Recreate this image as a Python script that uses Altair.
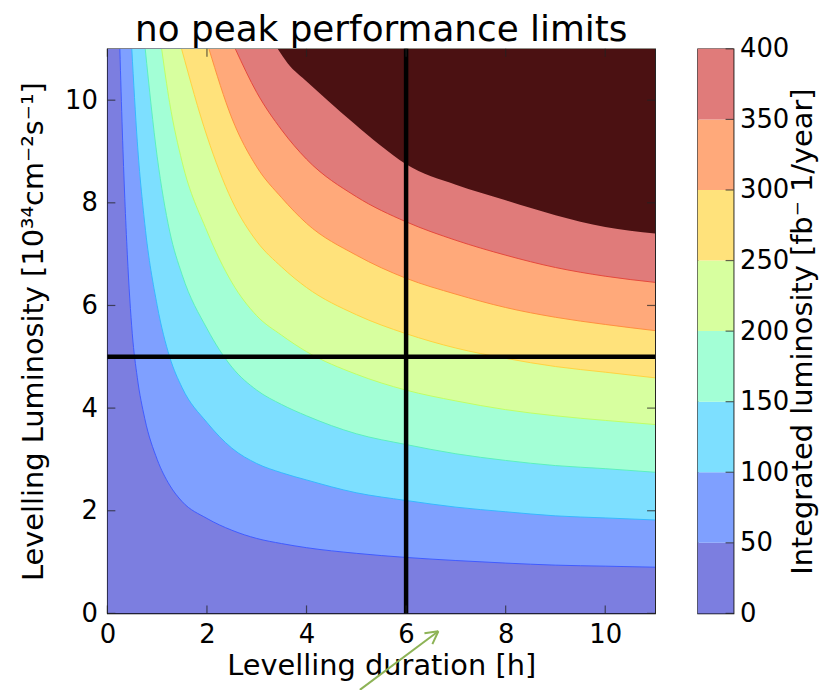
import altair as alt
import pandas as pd

FONT = "DejaVu Sans"
X_MAX = 11
Y_MAX = 11
W, H = 551, 568

# ---- tick values ----
x_ticks = [0, 2, 4, 6, 8, 10]
y_ticks = [0, 2, 4, 6, 8, 10]
cbar_ticks = [0, 50, 100, 150, 200, 250, 300, 350, 400]

# ---- contour levels & colours ----
levels = [0, 50, 100, 150, 200, 250, 300, 350, 400]
fill_colors = ["#7c7ee0", "#7fa0ff", "#7ddfff", "#a3ffd6", "#d7ff9f",
               "#ffe27b", "#ffa97a", "#e07b7a", "#4b1112"]
edge_colors = [None, "#3f5cff", "#36b8ff", "#5cf0bd", "#bfff66",
               "#ffd340", "#ff8f3e", "#e4493c", None]

# ---- contour boundaries (x = duration h, y = luminosity) ----
b0_x = [0, 11]
b0_y = [0, 0]
b50_x = [0.25, 0.3, 0.4, 0.5, 0.6, 0.75, 1.0, 1.25, 1.5, 2.0, 2.5, 3.0, 3.5, 4.0, 5.0, 6.0, 7.0, 8.0, 9.0, 10.0, 11.0]
b50_y = [11.0, 9.4, 7.0, 5.45, 4.6, 3.8, 3.0, 2.5, 2.18, 1.85, 1.62, 1.46, 1.36, 1.28, 1.17, 1.09, 1.03, 0.98, 0.94, 0.92, 0.90]
b100_x = [0.49, 0.6, 0.75, 1.0, 1.25, 1.5, 2.0, 2.5, 3.0, 3.5, 4.0, 5.0, 6.0, 7.0, 8.0, 9.0, 10.0, 11.0]
b100_y = [11.0, 9.2, 7.6, 6.0, 5.0, 4.4, 3.72, 3.22, 2.92, 2.74, 2.6, 2.35, 2.2, 2.07, 1.98, 1.9, 1.86, 1.82]
b150_x = [0.76, 1.0, 1.25, 1.5, 2.0, 2.5, 3.0, 3.5, 4.0, 5.0, 6.0, 7.0, 8.0, 9.0, 10.0, 11.0]
b150_y = [11.0, 8.9, 7.45, 6.6, 5.55, 4.8, 4.35, 4.07, 3.85, 3.5, 3.29, 3.11, 2.98, 2.88, 2.82, 2.75]
b200_x = [1.09, 1.25, 1.5, 2.0, 2.5, 3.0, 3.5, 4.0, 5.0, 6.0, 7.0, 8.0, 9.0, 10.0, 11.0]
b200_y = [11.0, 9.95, 8.8, 7.45, 6.45, 5.8, 5.42, 5.1, 4.66, 4.35, 4.14, 3.97, 3.85, 3.76, 3.68]
b250_x = [1.49, 2.0, 2.5, 3.0, 3.5, 4.0, 5.0, 6.0, 7.0, 8.0, 9.0, 10.0, 11.0]
b250_y = [11.0, 9.3, 8.05, 7.25, 6.75, 6.35, 5.82, 5.45, 5.17, 4.97, 4.81, 4.7, 4.59]
b300_x = [2.04, 2.5, 3.0, 3.5, 4.0, 5.0, 6.0, 7.0, 8.0, 9.0, 10.0, 11.0]
b300_y = [11.0, 9.65, 8.7, 8.1, 7.6, 6.98, 6.53, 6.22, 5.96, 5.77, 5.63, 5.51]
b350_x = [2.57, 3.0, 3.5, 4.0, 5.0, 6.0, 7.0, 8.0, 9.0, 10.0, 11.0]
b350_y = [11.0, 10.15, 9.42, 8.85, 8.12, 7.63, 7.27, 6.98, 6.74, 6.57, 6.45]
b400_x = [3.42, 3.62, 4.02, 4.42, 4.95, 5.48, 6.0, 7.0, 8.0, 9.0, 10.0, 11.0]
b400_y = [11.0, 10.72, 10.35, 10.0, 9.55, 9.12, 8.75, 8.35, 8.05, 7.76, 7.53, 7.40]

bounds_x = [b0_x, b50_x, b100_x, b150_x, b200_x, b250_x, b300_x, b350_x, b400_x]
bounds_y = [b0_y, b50_y, b100_y, b150_y, b200_y, b250_y, b300_y, b350_y, b400_y]

# reference lines
duration_mark = [6]
luminosity_mark = [5]

# ---- scales & axes ----
xscale = alt.Scale(domain=[0, X_MAX], nice=False, zero=False)
yscale = alt.Scale(domain=[0, Y_MAX], nice=False, zero=False)

xaxis = alt.Axis(values=x_ticks, title="Levelling duration [h]", ticks=False, domain=False,
                 grid=False, labelFontSize=26, titleFontSize=29, labelFont=FONT, titleFont=FONT,
                 titleFontWeight="normal", labelColor="black", titleColor="black",
                 labelPadding=8, titlePadding=5, format="d", labelFlush=False, labelOverlap=False)
yaxis = alt.Axis(values=y_ticks, title="Levelling Luminosity [10³⁴cm⁻²s⁻¹]", ticks=False,
                 domain=False, grid=False, labelFontSize=26, titleFontSize=29, labelFont=FONT,
                 titleFont=FONT, titleFontWeight="normal", labelColor="black", titleColor="black",
                 labelPadding=10, titlePadding=16, format="d", labelFlush=False, labelOverlap=False)

X = lambda f: alt.X(f, scale=xscale, axis=xaxis)
Y = lambda f: alt.Y(f, scale=yscale, axis=yaxis)

layers = []
for lvl, xs, ys, col in zip(levels, bounds_x, bounds_y, fill_colors):
    d = pd.DataFrame({"x": xs, "y": ys, "top": [Y_MAX] * len(xs)})
    layers.append(
        alt.Chart(d).mark_area(color=col, clip=True, interpolate="monotone", opacity=1)
        .encode(x=X("x:Q"), y=Y("y:Q"), y2="top:Q")
    )

for xs, ys, col in zip(bounds_x, bounds_y, edge_colors):
    if col is None:
        continue
    d = pd.DataFrame({"x": xs, "y": ys})
    layers.append(
        alt.Chart(d).mark_line(color=col, strokeWidth=1, clip=True, interpolate="monotone")
        .encode(x=X("x:Q"), y=Y("y:Q"))
    )

layers.append(
    alt.Chart(pd.DataFrame({"x": duration_mark})).mark_rule(color="black", strokeWidth=4.5)
    .encode(x=X("x:Q"))
)
layers.append(
    alt.Chart(pd.DataFrame({"y": luminosity_mark})).mark_rule(color="black", strokeWidth=4.5)
    .encode(y=Y("y:Q"))
)

# inward ticks on all four sides
tx = pd.DataFrame({"t": x_ticks})
ty = pd.DataFrame({"t": y_ticks})
for yv in [H - 4, 4]:
    layers.append(alt.Chart(tx).mark_tick(orient="vertical", size=8, thickness=1.2, color="#222")
                  .encode(x=X("t:Q"), y=alt.value(yv)))
for xv in [4, W - 4]:
    layers.append(alt.Chart(ty).mark_tick(orient="horizontal", size=8, thickness=1.2, color="#222")
                  .encode(y=Y("t:Q"), x=alt.value(xv)))

# green annotation arrow overlaid on the picture
one = pd.DataFrame({"a": [0]})
for (x1, y1, x2, y2) in [(333, 586, 254, 645), (333, 586, 319, 588), (333, 586, 327, 599)]:
    layers.append(alt.Chart(one).mark_rule(color="#8db356", strokeWidth=2)
                  .encode(x=alt.value(x1), y=alt.value(y1), x2=alt.value(x2), y2=alt.value(y2)))

main = alt.layer(*layers).properties(
    width=W, height=H,
    title=alt.Title("no peak performance limits", fontSize=36, font=FONT,
                    fontWeight="normal", color="black", anchor="middle", offset=-2),
)

# ---- colour bar ----
cscale = alt.Scale(domain=[0, 400], nice=False, zero=False)
caxis = alt.Axis(orient="right", values=cbar_ticks, ticks=False, domain=False, grid=False,
                 title="Integrated luminosity [fb⁻ 1/year]", titleAngle=270, titleBaseline="top",
                 labelFontSize=26, titleFontSize=29, labelFont=FONT, titleFont=FONT,
                 titleFontWeight="normal", labelColor="black", titleColor="black",
                 labelPadding=6, titlePadding=0, labelFlush=False, labelOverlap=False)
cb_df = pd.DataFrame({"lo": levels[:-1], "hi": levels[1:], "c": fill_colors[:-1]})
cbar_rect = alt.Chart(cb_df).mark_rect().encode(
    y=alt.Y("lo:Q", scale=cscale, axis=caxis), y2="hi:Q",
    color=alt.Color("c:N", scale=None), x=alt.value(0), x2=alt.value(36))
cbar_ticks_layer = alt.Chart(pd.DataFrame({"t": cbar_ticks})).mark_tick(
    orient="horizontal", size=8, thickness=1.2, color="#222").encode(
    y=alt.Y("t:Q", scale=cscale, axis=caxis), x=alt.value(32))
cbar = alt.layer(cbar_rect, cbar_ticks_layer).properties(width=36, height=H)

chart = alt.hconcat(main, cbar, spacing=39).properties(
    padding={"left": 11, "top": 1, "right": 0, "bottom": 0}
).configure_view(stroke="black", strokeWidth=1.3)

chart.save("out.html", embed_options={"renderer": "svg", "actions": False})
